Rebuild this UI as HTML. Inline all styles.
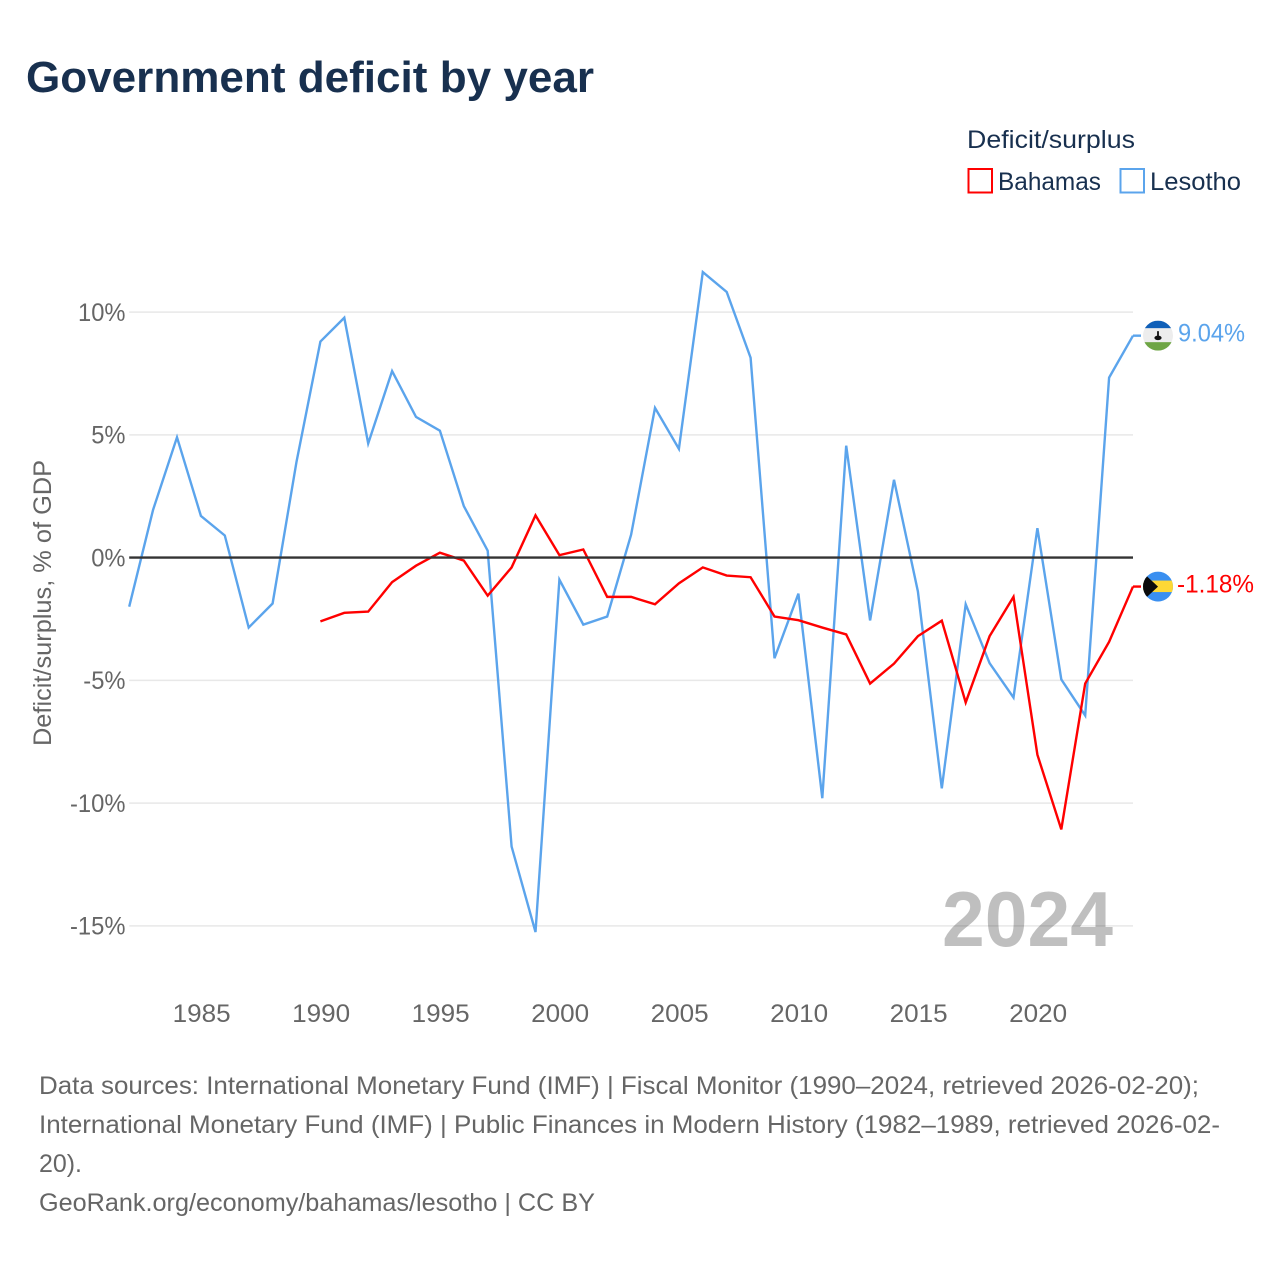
<!DOCTYPE html>
<html lang="en">
<head>
<meta charset="utf-8">
<title>Government deficit by year</title>
<style>
html,body{margin:0;padding:0;background:#fff;width:1280px;height:1280px;overflow:hidden}
svg{display:block}
text{font-family:"Liberation Sans",sans-serif}
</style>
</head>
<body>
<svg id="chart" width="1280" height="1280" viewBox="0 0 1280 1280" xmlns="http://www.w3.org/2000/svg">
  <rect x="0" y="0" width="1280" height="1280" fill="#fff"/>
  <text x="26" y="92" font-size="44" font-weight="700" fill="#18304f" textLength="568" lengthAdjust="spacingAndGlyphs">Government deficit by year</text>

  <text x="967" y="148" font-size="25" fill="#18304f" textLength="168" lengthAdjust="spacingAndGlyphs">Deficit/surplus</text>
  <rect x="968.5" y="169" width="23.5" height="23.5" fill="#fff" stroke="#ff0000" stroke-width="2"/>
  <text x="998" y="190" font-size="25" fill="#18304f" textLength="103" lengthAdjust="spacingAndGlyphs">Bahamas</text>
  <rect x="1120.5" y="169" width="23.5" height="23.5" fill="#fff" stroke="#5ba4ec" stroke-width="2"/>
  <text x="1150" y="190" font-size="25" fill="#18304f" textLength="91" lengthAdjust="spacingAndGlyphs">Lesotho</text>

  <g id="grid"></g>
  <g id="ytick-labels"></g>
  <g id="xtick-labels"></g>
  <text transform="translate(51,746) rotate(-90)" x="0" y="0" font-size="25" fill="#666" textLength="286" lengthAdjust="spacingAndGlyphs">Deficit/surplus, % of GDP</text>
  <text x="942" y="946" font-size="78" font-weight="700" fill="#000" fill-opacity="0.25" textLength="171" lengthAdjust="spacingAndGlyphs">2024</text>

  <g id="series"></g>

  <defs>
    <clipPath id="flag-clip"><circle cx="0" cy="0" r="15"/></clipPath>
  </defs>
  <g id="flag-lesotho">
    <g clip-path="url(#flag-clip)">
      <rect x="-15" y="-15" width="30" height="30" fill="#ededed"/>
      <rect x="-15" y="-15" width="30" height="7.5" fill="#0f5fb8"/>
      <rect x="-15" y="6.5" width="30" height="8.5" fill="#6ea544"/>
      <rect x="-0.9" y="-4.5" width="1.8" height="6" fill="#111"/>
      <ellipse cx="0" cy="2.2" rx="3.6" ry="2.3" fill="#111"/>
    </g>
  </g>
  <g id="flag-bahamas">
    <g clip-path="url(#flag-clip)">
      <rect x="-15" y="-15" width="30" height="30" fill="#3a8ff0"/>
      <rect x="-15" y="-6" width="30" height="11.5" fill="#fdd835"/>
      <polygon points="-15,-14 0,0 -15,14" fill="#0b0b0b"/>
    </g>
  </g>
  <text id="value-lesotho" x="1178" font-size="25" fill="#5ba4ec" textLength="67" lengthAdjust="spacingAndGlyphs"></text>
  <text id="value-bahamas" x="1177" font-size="25" fill="#ff0000" textLength="77" lengthAdjust="spacingAndGlyphs"></text>

  <g font-size="25" fill="#666">
    <text x="39" y="1094" textLength="1160" lengthAdjust="spacingAndGlyphs">Data sources: International Monetary Fund (IMF) | Fiscal Monitor (1990–2024, retrieved 2026-02-20);</text>
    <text x="39" y="1133" textLength="1181" lengthAdjust="spacingAndGlyphs">International Monetary Fund (IMF) | Public Finances in Modern History (1982–1989, retrieved 2026-02-</text>
    <text x="39" y="1172" textLength="43" lengthAdjust="spacingAndGlyphs">20).</text>
    <text x="39" y="1211" textLength="556" lengthAdjust="spacingAndGlyphs">GeoRank.org/economy/bahamas/lesotho | CC BY</text>
  </g>
</svg>
<script>
const lesothoYears = [1982,1983,1984,1985,1986,1987,1988,1989,1990,1991,1992,1993,1994,1995,1996,1997,1998,1999,2000,2001,2002,2003,2004,2005,2006,2007,2008,2009,2010,2011,2012,2013,2014,2015,2016,2017,2018,2019,2020,2021,2022,2023,2024];
const lesothoValues = [-2.0,1.95,4.9,1.7,0.9,-2.85,-1.87,3.9,8.8,9.77,4.65,7.6,5.73,5.17,2.1,0.28,-11.77,-15.25,-0.9,-2.73,-2.4,0.93,6.1,4.43,11.63,10.82,8.14,-4.1,-1.47,-9.8,4.56,-2.56,3.17,-1.38,-9.4,-1.9,-4.3,-5.7,1.2,-4.96,-6.43,7.33,9.04];
const bahamasYears = [1990,1991,1992,1993,1994,1995,1996,1997,1998,1999,2000,2001,2002,2003,2004,2005,2006,2007,2008,2009,2010,2011,2012,2013,2014,2015,2016,2017,2018,2019,2020,2021,2022,2023,2024];
const bahamasValues = [-2.6,-2.25,-2.2,-1.0,-0.33,0.2,-0.12,-1.55,-0.4,1.72,0.1,0.33,-1.6,-1.6,-1.9,-1.05,-0.4,-0.73,-0.8,-2.4,-2.55,-2.85,-3.13,-5.13,-4.32,-3.2,-2.57,-5.9,-3.2,-1.6,-8.03,-11.07,-5.13,-3.43,-1.18];
const yTicks = [10,5,0,-5,-10,-15];
const xTicks = [1985,1990,1995,2000,2005,2010,2015,2020];

const NS = 'http://www.w3.org/2000/svg';
const xScale = year => 129.2 + (year - 1982) * (1038 - 201.5) / 35;
const yScale = value => 557.6 - value * 24.55;
const PLOT_LEFT = xScale(1982);
const PLOT_RIGHT = xScale(2024);

const grid = document.getElementById('grid');
const yLabels = document.getElementById('ytick-labels');
const xLabels = document.getElementById('xtick-labels');
const series = document.getElementById('series');

function make(tag, parent, attrs) {
  const el = document.createElementNS(NS, tag);
  for (const k in attrs) el.setAttribute(k, attrs[k]);
  parent.appendChild(el);
  return el;
}

yTicks.forEach(t => {
  if (t !== 0) {
    const line = make('line', grid, {x1: PLOT_LEFT, x2: PLOT_RIGHT, y1: yScale(t), y2: yScale(t), stroke: '#e8e8e8', 'stroke-width': 1.5});
    
    
  }
  const label = make('text', yLabels, {x: 125.5, y: yScale(t) + 8.7, 'text-anchor': 'end', 'font-size': 25, fill: '#666'});
  
  
  label.textContent = t + '%';
  label.setAttribute('textLength', (label.getComputedTextLength() * 0.95).toFixed(1));
  label.setAttribute('lengthAdjust', 'spacingAndGlyphs');
});

xTicks.forEach(t => {
  const label = make('text', xLabels, {x: xScale(t) + 0.8, y: 1022, 'text-anchor': 'middle', 'font-size': 25, fill: '#666', textLength: 58, lengthAdjust: 'spacingAndGlyphs'});
  
  
  label.textContent = t;
});

function linePath(years, values) {
  return years.map((y, i) => (i ? 'L' : 'M') + xScale(y).toFixed(2) + ' ' + yScale(values[i]).toFixed(2)).join(' ');
}

const lesothoLine = make('path', series, {d: linePath(lesothoYears, lesothoValues), fill: 'none', stroke: '#5ba4ec', 'stroke-width': 2.4, 'stroke-linejoin': 'miter'});



const bahamasLine = make('path', series, {d: linePath(bahamasYears, bahamasValues), fill: 'none', stroke: '#ff0000', 'stroke-width': 2.4, 'stroke-linejoin': 'miter'});



const zeroLine = make('line', series, {x1: PLOT_LEFT, x2: PLOT_RIGHT, y1: yScale(0), y2: yScale(0), stroke: '#333', 'stroke-width': 2.4});



const lastL = lesothoValues[lesothoValues.length - 1];
const lastB = bahamasValues[bahamasValues.length - 1];
const lesothoStub = make('line', series, {x1: PLOT_RIGHT, x2: PLOT_RIGHT + 8, y1: yScale(lastL), y2: yScale(lastL), stroke: '#5ba4ec', 'stroke-width': 2.4});


const bahamasStub = make('line', series, {x1: PLOT_RIGHT, x2: PLOT_RIGHT + 8, y1: yScale(lastB), y2: yScale(lastB), stroke: '#ff0000', 'stroke-width': 2.4});



document.getElementById('flag-lesotho').setAttribute('transform', 'translate(1158,' + yScale(lastL) + ')');
document.getElementById('flag-bahamas').setAttribute('transform', 'translate(1158,' + yScale(lastB) + ')');

const vL = document.getElementById('value-lesotho');
vL.setAttribute('y', yScale(lastL) + 6);
vL.textContent = lastL.toFixed(2) + '%';
const vB = document.getElementById('value-bahamas');
vB.setAttribute('y', yScale(lastB) + 6);
vB.textContent = lastB.toFixed(2) + '%';
</script>
</body>
</html>
